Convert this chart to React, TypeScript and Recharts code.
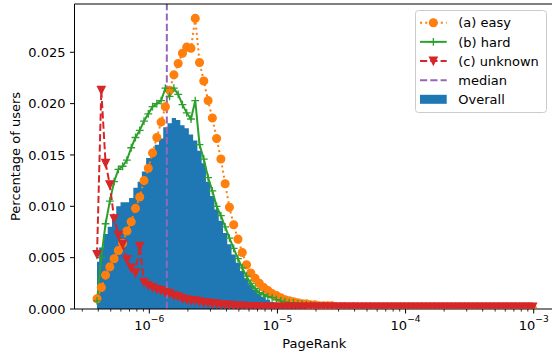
import React from "react";
import { ComposedChart, Area, Line, XAxis, YAxis, ReferenceLine, Legend } from "recharts";

// log-spaced bins, 30 per decade; first bin centre at 10^-6.408
const BIN_START = -6.408;
const BINS_PER_DECADE = 30;

const overall = [
  0.0046, 0.006, 0.0073, 0.008, 0.009, 0.01, 0.0104, 0.0104, 0.0108, 0.0118,
  0.0124, 0.0134, 0.0147, 0.0154, 0.016, 0.0166, 0.0177, 0.0181, 0.0186, 0.0184,
  0.0179, 0.0176, 0.017, 0.0164, 0.0154, 0.0142, 0.0124, 0.011, 0.0097, 0.0086,
  0.0074, 0.0063, 0.0053, 0.0045, 0.0037, 0.003, 0.0024, 0.0019, 0.0015, 0.0012,
  0.0009, 0.0007, 0.0005, 0.0004, 0.0003, 0.00025, 0.0002, 0.00015, 0.00012, 0.0001,
  0.00008, 0.00006, 0.00005, 0.00005, 0.00004, 0.00004, 0.00003, 0.00003, 0.00003, 0.00002,
  0.00002, 0.00002, 0.00002, 0.00002, 0.00002, 0.00002, 0.00002, 0.00002, 0.00002, 0.00002,
  0.00001, 0.00001, 0.00001, 0.00001, 0.00001, 0.00001, 0.00001, 0.00001, 0.00001, 0.00001,
  0.00001, 0.00001, 0.00001, 0.00001, 0.00001, 0.00001, 0.00001, 0.00001, 0.00001, 0.00001,
  0.00001, 0.00001, 0.00001, 0.00001, 0.00001, 0.00001, 0.00001, 0.00001, 0.00001, 0.00001,
  0.00001, 0.00001, 0.00001,
];

const easy = [
  0.001, 0.0021, 0.0033, 0.0041, 0.0049, 0.0057, 0.0064, 0.0076, 0.0085, 0.0098,
  0.0109, 0.0125, 0.0137, 0.0152, 0.0167, 0.0182, 0.0197, 0.0213, 0.0228, 0.0239,
  0.0249, 0.0255, 0.0254, 0.0283, 0.024, 0.0222, 0.0203, 0.0186, 0.0166, 0.0146,
  0.0122, 0.0099, 0.0082, 0.0068, 0.0055, 0.0043, 0.0035, 0.003, 0.0025, 0.0021,
  0.0018, 0.0015, 0.0013, 0.0011, 0.0009, 0.0008, 0.0007, 0.0006, 0.0005, 0.0005,
  0.0004, 0.0004, 0.0003, 0.0003, 0.0003, 0.0003, 0.0002, 0.0002, 0.0002, 0.0001,
  0.0002, 0.0001, 0.0001, 0.0001, 0.0001, 0, 0, 0, 0, 0,
  0, 0, 0, 0, 0, 0, 0, 0, 0, 0,
  0, 0, 0, 0, 0, 0, 0, 0, 0, 0,
  0, 0, 0, 0, 0, 0, 0, 0, 0, 0,
  0, 0, 0,
];

const hard = [
  0.0008, 0.005, 0.0083, 0.0105, 0.0124, 0.0136, 0.0139, 0.0145, 0.0157, 0.0167,
  0.0174, 0.0183, 0.019, 0.0197, 0.02, 0.0203, 0.0215, 0.0207, 0.0215, 0.0209,
  0.0199, 0.0191, 0.0185, 0.0203, 0.016, 0.0146, 0.0128, 0.0115, 0.01, 0.0091,
  0.008, 0.0069, 0.0059, 0.0049, 0.004, 0.0032, 0.0025, 0.002, 0.0016, 0.0014,
  0.0012, 0.0011, 0.0009, 0.0008, 0.0007, 0.0006, 0.0006, 0.0005, 0.0005, 0.0004,
  0.0004, 0.0003, 0.0003, 0.0003, 0.0002, 0.0002, 0.0002, 0.0001, 0.0001, 0.0001,
  0, 0, 0, 0, 0, 0, 0, 0, 0, 0,
  0, 0, 0, 0, 0, 0, 0, 0, 0, 0,
  0, 0, 0, 0, 0, 0, 0, 0, 0, 0,
  0, 0, 0, 0, 0, 0, 0, 0, 0, 0,
  0, 0, 0,
];

const unknown = [
  0.0053, 0.0213, 0.0142, 0.0121, 0.0088, 0.0072, 0.0063, 0.0048, 0.004, 0.0035,
  0.0061, 0.0026, 0.0023, 0.0021, 0.0019, 0.0018, 0.0016, 0.0015, 0.0013, 0.0012,
  0.001, 0.0009, 0.0008, 0.0008, 0.0007, 0.0006, 0.0006, 0.0005, 0.0005, 0.0004,
  0.0004, 0.0004, 0.0003, 0.0003, 0.0003, 0.00025, 0.00025, 0.00025, 0.0002, 0.0002,
  0.0002, 0.0002, 0.0002, 0.0002, 0.0002, 0.0002, 0.0002, 0.0002, 0.0002, 0.0002,
  0.0002, 0.0002, 0.0002, 0.0002, 0.0002, 0.0002, 0.0002, 0.0002, 0.0002, 0.0002,
  0.0002, 0.0002, 0.0002, 0.0002, 0.0002, 0.0002, 0.0002, 0.0002, 0.0002, 0.0002,
  0.0002, 0.0002, 0.0002, 0.0002, 0.0002, 0.0002, 0.0002, 0.0002, 0.0002, 0.0002,
  0.0002, 0.0002, 0.0002, 0.0002, 0.0002, 0.0002, 0.0002, 0.0002, 0.0002, 0.0002,
  0.0002, 0.0002, 0.0002, 0.0002, 0.0002, 0.0002, 0.0002, 0.0002, 0.0002, 0.0002,
  0.0002, 0.0002, 0.0002,
];

const MEDIAN = 1.37e-6;
const legendLabels = ["(a) easy", "(b) hard", "(c) unknown", "median", "Overall"];

const X_MIN = 10 ** -6.5838;
const X_MAX = 10 ** -2.8416;
const Y_MAX = 0.0297;
const yTicks = [0, 0.005, 0.01, 0.015, 0.02, 0.025];
const majorTicks = [1e-6, 1e-5, 1e-4, 1e-3];
const minorTicks: number[] = [];
for (let e = -7; e <= -4; e++) {
  for (let k = 2; k <= 9; k++) {
    const v = k * 10 ** e;
    if (v > X_MIN && v < X_MAX) minorTicks.push(v);
  }
}

const data = overall.map((v, i) => ({
  pr: 10 ** (BIN_START + i / BINS_PER_DECADE),
  overall: v,
  easy: easy[i],
  hard: hard[i],
  unknown: unknown[i],
}));

const BLUE = "#1f77b4";
const ORANGE = "#ff7f0e";
const GREEN = "#2ca02c";
const RED = "#d62728";
const PURPLE = "#9467bd";

function XTick(props: any) {
  const { x, y, payload } = props;
  const v = payload.value;
  const major = majorTicks.includes(v);
  const exp = Math.round(Math.log10(v));
  return (
    <g>
      <line x1={x} x2={x} y1={y} y2={y + (major ? 4.5 : 2.6)} stroke="#000" strokeWidth={major ? 1 : 0.8} />
      {major && (
        <text x={x} y={y + 21} textAnchor="middle" fontSize={13} fill="#000">
          <tspan>10</tspan>
          <tspan dy={-8} fontSize={9.1}>{`\u2212${-exp}`}</tspan>
        </text>
      )}
    </g>
  );
}

function YTick(props: any) {
  const { x, y, payload } = props;
  return (
    <g>
      <line x1={x - 4.5} x2={x} y1={y} y2={y} stroke="#000" strokeWidth={1} />
      <text x={x - 9} y={y + 4.7} textAnchor="end" fontSize={13} fill="#000">
        {payload.value.toFixed(3)}
      </text>
    </g>
  );
}

const circleDot = (p: any) => (
  <circle key={`e${p.index}`} cx={p.cx} cy={p.cy} r={3.9} fill={ORANGE} stroke={ORANGE} strokeWidth={1.3} />
);

const plusDot = (p: any) => (
  <path
    key={`h${p.index}`}
    d={`M${p.cx - 3.9},${p.cy}H${p.cx + 3.9}M${p.cx},${p.cy - 3.9}V${p.cy + 3.9}`}
    stroke={GREEN}
    strokeWidth={1.3}
    fill="none"
  />
);

const triDot = (p: any) => (
  <path
    key={`u${p.index}`}
    d={`M${p.cx - 3.9},${p.cy - 3.9}L${p.cx + 3.9},${p.cy - 3.9}L${p.cx},${p.cy + 3.9}Z`}
    fill={RED}
    stroke={RED}
    strokeWidth={1.2}
  />
);

function LegendBox() {
  const rowY = (k: number) => 12.7 + k * 19.15;
  const hx1 = 5;
  const hx2 = 31.7;
  const hc = (hx1 + hx2) / 2;
  return (
    <svg width={133} height={104} style={{ display: "block" }}>
      <rect x={0.5} y={0.5} width={131} height={102} rx={3} fill="#fff" fillOpacity={0.8} stroke="#cccccc" />
      <line x1={hx1} x2={hx2} y1={rowY(0)} y2={rowY(0)} stroke={ORANGE} strokeWidth={2} strokeDasharray="2 3.2" />
      <circle cx={hc} cy={rowY(0)} r={3.9} fill={ORANGE} stroke={ORANGE} strokeWidth={1.3} />
      <line x1={hx1} x2={hx2} y1={rowY(1)} y2={rowY(1)} stroke={GREEN} strokeWidth={2} />
      <path d={`M${hc - 3.9},${rowY(1)}H${hc + 3.9}M${hc},${rowY(1) - 3.9}V${rowY(1) + 3.9}`} stroke={GREEN} strokeWidth={1.3} />
      <line x1={hx1} x2={hx2} y1={rowY(2)} y2={rowY(2)} stroke={RED} strokeWidth={2} strokeDasharray="7.2 3.1" />
      <path
        d={`M${hc - 3.9},${rowY(2) - 3.9}L${hc + 3.9},${rowY(2) - 3.9}L${hc},${rowY(2) + 3.9}Z`}
        fill={RED}
        stroke={RED}
        strokeWidth={1.2}
      />
      <line x1={hx1} x2={hx2} y1={rowY(3)} y2={rowY(3)} stroke={PURPLE} strokeWidth={2} strokeDasharray="7.2 3.1" />
      <rect x={hx1} y={rowY(4) - 4.5} width={hx2 - hx1} height={9} fill={BLUE} />
      {legendLabels.map((t, k) => (
        <text key={t} x={43.3} y={rowY(k) + 4.7} fontSize={13} fill="#000">
          {t}
        </text>
      ))}
    </svg>
  );
}

export default function App() {
  return (
    <div
      style={{
        position: "absolute",
        left: 0,
        top: 0,
        width: 552,
        height: 360,
        overflow: "hidden",
        background: "#fff",
        fontFamily: "'DejaVu Sans', sans-serif",
      }}
    >
      <ComposedChart width={554} height={360} data={data} margin={{ top: 4, right: 0, bottom: 0, left: 0 }}>
        <XAxis
          dataKey="pr"
          type="number"
          scale="log"
          domain={[X_MIN, X_MAX]}
          allowDataOverflow
          ticks={[...majorTicks, ...minorTicks]}
          interval={0}
          tick={XTick}
          tickLine={false}
          tickSize={0}
          tickMargin={0}
          axisLine={{ stroke: "#000", strokeWidth: 1 }}
          height={51}
          label={{ value: "PageRank", position: "insideBottom", offset: 12, fontSize: 13, fill: "#000" }}
        />
        <YAxis
          type="number"
          domain={[0, Y_MAX]}
          allowDataOverflow
          ticks={yTicks}
          interval={0}
          tick={YTick}
          tickLine={false}
          tickSize={0}
          tickMargin={0}
          width={74.5}
          axisLine={{ stroke: "#000", strokeWidth: 1 }}
          label={{
            value: "Percentage of users",
            angle: -90,
            position: "insideLeft",
            offset: 15,
            fontSize: 13,
            fill: "#000",
            style: { textAnchor: "middle" },
          }}
        />
        <Area
          type="step"
          dataKey="overall"
          fill={BLUE}
          fillOpacity={1}
          stroke="none"
          dot={false}
          activeDot={false}
          isAnimationActive={false}
        />
        <Line
          type="linear"
          dataKey="easy"
          stroke={ORANGE}
          strokeWidth={2}
          strokeDasharray="2 3.2"
          dot={circleDot}
          activeDot={false}
          isAnimationActive={false}
        />
        <Line
          type="linear"
          dataKey="hard"
          stroke={GREEN}
          strokeWidth={2}
          dot={plusDot}
          activeDot={false}
          isAnimationActive={false}
        />
        <Line
          type="linear"
          dataKey="unknown"
          stroke={RED}
          strokeWidth={2}
          strokeDasharray="7.2 3.1"
          dot={triDot}
          activeDot={false}
          isAnimationActive={false}
        />
        <ReferenceLine x={MEDIAN} stroke={PURPLE} strokeWidth={2} strokeDasharray="7.2 3.1" />
        <ReferenceLine y={Y_MAX} stroke="#000" strokeWidth={1} />
        <Legend
          layout="vertical"
          align="center"
          verticalAlign="middle"
          wrapperStyle={{ left: 415, top: 10, width: 133, height: 104 }}
          content={LegendBox}
        />
      </ComposedChart>
    </div>
  );
}
